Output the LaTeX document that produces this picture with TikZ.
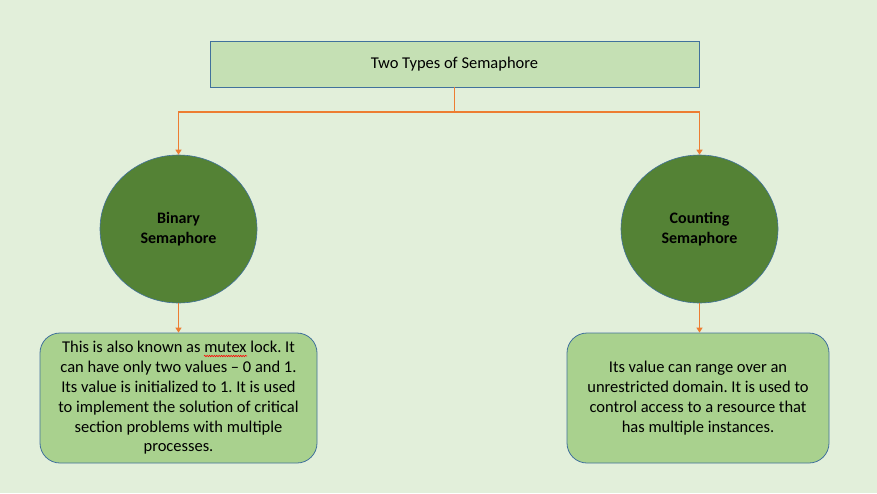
\documentclass[tikz,border=0pt]{standalone}
\usepackage{fontspec}
\setmainfont{Carlito}
\frenchspacing
\usetikzlibrary{arrows.meta,decorations.pathmorphing,shapes.geometric}
\definecolor{bg}{HTML}{E2EFDA}
\definecolor{titlefill}{HTML}{C5E0B4}
\definecolor{edgeblue}{HTML}{41719C}
\definecolor{darkgreen}{HTML}{548235}
\definecolor{boxfill}{HTML}{A9D18E}
\definecolor{orangeline}{HTML}{ED7D31}
\tikzset{
  titlebox/.style={draw=edgeblue,line width=0.8pt,fill=titlefill,minimum width=489pt,minimum height=46pt,inner sep=0pt,font=\fontsize{16.5}{20}\selectfont},
  circ/.style={ellipse,draw=edgeblue,line width=0.6pt,fill=darkgreen,minimum width=157pt,minimum height=148pt,inner sep=0pt,align=center,font=\fontsize{16}{20}\selectfont\bfseries},
  descbox/.style={draw=edgeblue,line width=0.8pt,fill=boxfill,rounded corners=20pt,minimum height=130pt,inner sep=0pt,align=center,font=\fontsize{16.5}{19.8}\selectfont},
  conn/.style={orangeline,line width=1.5pt},
  arr/.style={conn,-{Triangle[width=6pt,length=5pt]}},
  spell/.style={red,line width=0.6pt,decorate,decoration={snake,amplitude=0.7pt,segment length=2.4pt}}
}
\begin{document}
\begin{tikzpicture}[x=1pt,y=-1pt]
\fill[bg] (0,0) rectangle (877,493);
\useasboundingbox (0,0) rectangle (877,493);
\node[titlebox] (title) at (454.5,64) {Two Types of Semaphore};
\node[circ] (bin) at (178.5,229) {Binary\\Semaphore};
\node[circ] (cnt) at (699.5,229) {Counting\\Semaphore};
\node[descbox,minimum width=277pt] (bdesc) at (178.5,398) {This is also known as mutex lock. It\\can have only two values -- 0 and 1.\\Its value is initialized to 1. It is used\\to implement the solution of critical\\section problems with multiple\\processes.};
\node[descbox,minimum width=262pt] (cdesc) at (698,398) {Its value can range over an\\unrestricted domain. It is used to\\control access to a resource that\\has multiple instances.};
\coordinate (split) at (title.south |- 0,112);
\coordinate (w1) at (204,356);
\coordinate (w2) at (247,356);
\draw[spell] (w1) -- (w2);
\draw[conn] (title.south) -- (split);
\draw[arr] (split) -| (bin.north);
\draw[arr] (split) -| (cnt.north);
\draw[arr] (bin.south) -- (bdesc.north);
\draw[arr] (cnt.south) -- (cnt.south |- cdesc.north);
\end{tikzpicture}
\end{document}
